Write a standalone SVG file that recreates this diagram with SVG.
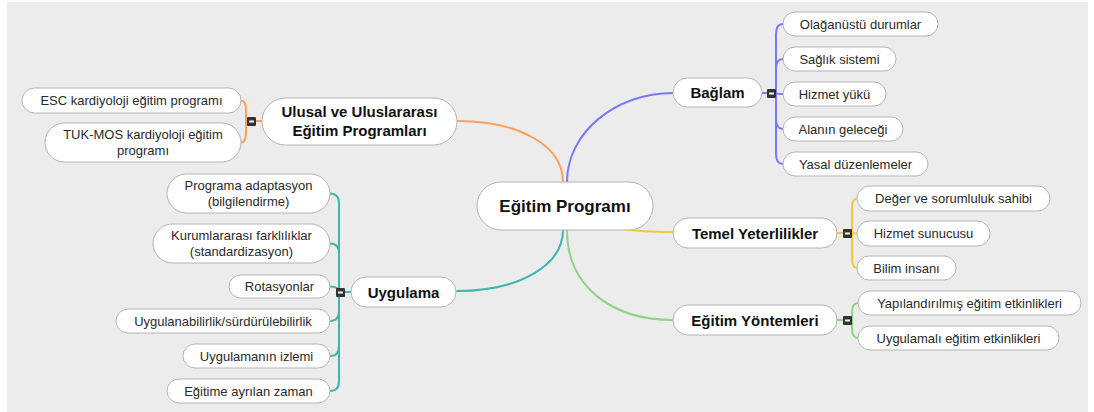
<svg xmlns="http://www.w3.org/2000/svg" width="1094" height="412" viewBox="0 0 1094 412">
<style>
.node rect.b{fill:#fff;stroke:#b4b4b4;stroke-width:1}
.main{font-family:"Liberation Sans",Arial,sans-serif;font-weight:bold;font-size:15px;fill:#111;text-anchor:middle}
.root{font-family:"Liberation Sans",Arial,sans-serif;font-weight:bold;font-size:17px;fill:#111;text-anchor:middle}
.leaf{font-family:"Liberation Sans",Arial,sans-serif;font-size:13px;fill:#2a2a2a;text-anchor:middle}
.c{fill:none;stroke-width:2;stroke-linecap:round}
.o{stroke:#ff9f5a}.bl{stroke:#7a7af0}.y{stroke:#f7c634}.t{stroke:#3db7ad}.g{stroke:#8dd483}
.box{fill:#333}
.dash{fill:#fff}
</style>
<rect x="0" y="0" width="1094" height="412" fill="#fff"/>
<rect x="7" y="2" width="1081" height="410" fill="#ececec"/>
<g id="connectors">
<path class="c o" d="M563,182 C563,146 520,121 457,121"/>
<path class="c bl" d="M567,182 C567,133 615,93 673,93"/>
<path class="c y" d="M625,229 C640,232 655,232 673,232"/>
<path class="c t" d="M563,230 C563,265 520,291 457,291"/>
<path class="c g" d="M567,230 C567,285 610,320 673,320"/>
<path class="c bl" d="M762,93 L772,93"/>
<path class="c bl" d="M776,93 L776,34 Q776,24 783,24"/>
<path class="c bl" d="M776,93 L776,69 Q776,59 783,59"/>
<path class="c bl" d="M772,93 L776,93 Q776,94 783,94"/>
<path class="c bl" d="M776,93 L776,119 Q776,129 783,129"/>
<path class="c bl" d="M776,93 L776,154 Q776,164 783,164"/>
<path class="c y" d="M837,233 L847,233"/>
<path class="c y" d="M852,233 L852,208.5 Q852,198.5 857,198.5"/>
<path class="c y" d="M847,233 L857,233.5"/>
<path class="c y" d="M852,233 L852,258 Q852,268 857,268"/>
<path class="c g" d="M837,320 L847,320"/>
<path class="c g" d="M852,320 L852,313 Q852,303 858,303"/>
<path class="c g" d="M852,320 L852,328 Q852,338 858,338"/>
<path class="c o" d="M262,121 L251,121"/>
<path class="c o" d="M246,121 L246,110.5 Q246,100.5 241,100.5"/>
<path class="c o" d="M246,121 L246,132.5 Q246,142.5 241,142.5"/>
<path class="c t" d="M351,292 L340,292"/>
<path class="c t" d="M339,292 L339,203.5 Q339,193.5 330,193.5"/>
<path class="c t" d="M339,292 L339,253.5 Q339,243.5 330,243.5"/>
<path class="c t" d="M339,292 Q339,286.5 330,286.5"/>
<path class="c t" d="M339,292 L339,311 Q339,321 330,321"/>
<path class="c t" d="M339,292 L339,346 Q339,356 330,356"/>
<path class="c t" d="M339,292 L339,381 Q339,391 330,391"/>
</g>
<g id="root" class="node"><rect class="b" x="477" y="182" width="176" height="48" rx="24"/><text class="root" x="565" y="212">Eğitim Programı</text></g>
<g id="baglam" class="node"><rect class="b" x="673" y="78" width="89" height="29" rx="14.5"/><text class="main" x="717.5" y="98">Bağlam</text></g>
<g id="baglam-toggle"><rect class="box" x="767" y="89" width="9" height="9" rx="1"/><rect class="dash" x="769" y="92.5" width="5" height="2"/></g>
<g id="b1" class="node"><rect class="b" x="783" y="12" width="155" height="24" rx="12"/><text class="leaf" x="860.5" y="28.5">Olağanüstü durumlar</text></g>
<g id="b2" class="node"><rect class="b" x="783" y="47" width="113" height="24" rx="12"/><text class="leaf" x="839.5" y="63.5">Sağlık sistemi</text></g>
<g id="b3" class="node"><rect class="b" x="783" y="82" width="103" height="24" rx="12"/><text class="leaf" x="834.5" y="98.5">Hizmet yükü</text></g>
<g id="b4" class="node"><rect class="b" x="783" y="117" width="120" height="24" rx="12"/><text class="leaf" x="843" y="133.5">Alanın geleceği</text></g>
<g id="b5" class="node"><rect class="b" x="783" y="152" width="145" height="24" rx="12"/><text class="leaf" x="855.5" y="168.5">Yasal düzenlemeler</text></g>
<g id="temel" class="node"><rect class="b" x="673" y="218" width="164" height="30" rx="15"/><text class="main" x="755" y="238.5">Temel Yeterlilikler</text></g>
<g id="temel-toggle"><rect class="box" x="843" y="229" width="9" height="9" rx="1"/><rect class="dash" x="845" y="232.5" width="5" height="2"/></g>
<g id="t1" class="node"><rect class="b" x="857" y="186" width="193" height="25" rx="12.5"/><text class="leaf" x="953.5" y="203">Değer ve sorumluluk sahibi</text></g>
<g id="t2" class="node"><rect class="b" x="857" y="221" width="133" height="25" rx="12.5"/><text class="leaf" x="923.5" y="238">Hizmet sunucusu</text></g>
<g id="t3" class="node"><rect class="b" x="857" y="256" width="99" height="24" rx="12"/><text class="leaf" x="906.5" y="272.5">Bilim insanı</text></g>
<g id="yontem" class="node"><rect class="b" x="673" y="305" width="164" height="30" rx="15"/><text class="main" x="755" y="325.5">Eğitim Yöntemleri</text></g>
<g id="yontem-toggle"><rect class="box" x="843" y="316" width="9" height="9" rx="1"/><rect class="dash" x="845" y="319.5" width="5" height="2"/></g>
<g id="y1" class="node"><rect class="b" x="858" y="291" width="223" height="24" rx="12"/><text class="leaf" x="969.5" y="307.5">Yapılandırılmış eğitim etkinlikleri</text></g>
<g id="y2" class="node"><rect class="b" x="858" y="326" width="201" height="24" rx="12"/><text class="leaf" x="958.5" y="342.5">Uygulamalı eğitim etkinlikleri</text></g>
<g id="ulusal" class="node"><rect class="b" x="262" y="98" width="195" height="47" rx="23.5"/><text class="main" x="359.5" y="117">Ulusal ve Uluslararası</text><text class="main" x="359.5" y="136">Eğitim Programları</text></g>
<g id="ulusal-toggle"><rect class="box" x="247" y="117" width="9" height="9" rx="1"/><rect class="dash" x="249" y="120.5" width="5" height="2"/></g>
<g id="u1" class="node"><rect class="b" x="22" y="88" width="219" height="25" rx="12.5"/><text class="leaf" x="131.5" y="105">ESC kardiyoloji eğitim programı</text></g>
<g id="u2" class="node"><rect class="b" x="45" y="123" width="196" height="39" rx="19.5"/><text class="leaf" x="143" y="139">TUK-MOS kardiyoloji eğitim</text><text class="leaf" x="143" y="155">programı</text></g>
<g id="uygulama" class="node"><rect class="b" x="351" y="277" width="105" height="30" rx="15"/><text class="main" x="403.5" y="297.5">Uygulama</text></g>
<g id="uygulama-toggle"><rect class="box" x="336" y="288" width="9" height="9" rx="1"/><rect class="dash" x="338" y="291.5" width="5" height="2"/></g>
<g id="p1" class="node"><rect class="b" x="167" y="174" width="163" height="39" rx="19.5"/><text class="leaf" x="248.5" y="190">Programa adaptasyon</text><text class="leaf" x="248.5" y="206">(bilgilendirme)</text></g>
<g id="p2" class="node"><rect class="b" x="153" y="224" width="177" height="39" rx="19.5"/><text class="leaf" x="241.5" y="240">Kurumlararası farklılıklar</text><text class="leaf" x="241.5" y="256">(standardizasyon)</text></g>
<g id="p3" class="node"><rect class="b" x="229" y="275" width="101" height="23" rx="11.5"/><text class="leaf" x="279.5" y="291">Rotasyonlar</text></g>
<g id="p4" class="node"><rect class="b" x="116" y="309" width="214" height="24" rx="12"/><text class="leaf" x="223" y="325.5">Uygulanabilirlik/sürdürülebilirlik</text></g>
<g id="p5" class="node"><rect class="b" x="183" y="344" width="147" height="24" rx="12"/><text class="leaf" x="256.5" y="360.5">Uygulamanın izlemi</text></g>
<g id="p6" class="node"><rect class="b" x="167" y="379" width="163" height="24" rx="12"/><text class="leaf" x="248.5" y="395.5">Eğitime ayrılan zaman</text></g>
</svg>
